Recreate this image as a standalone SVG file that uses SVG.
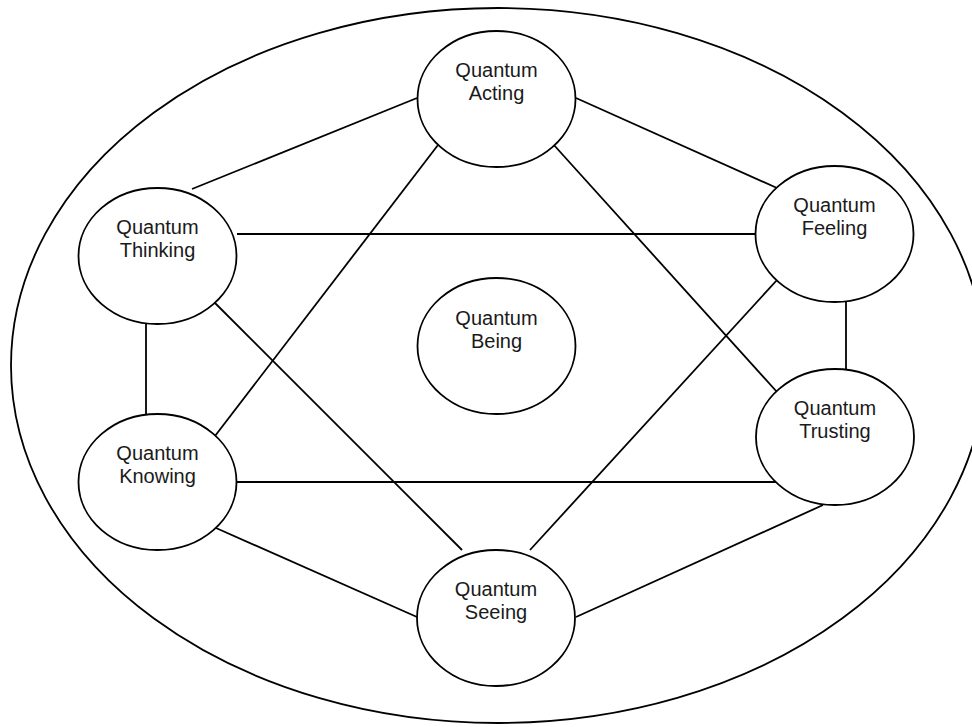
<svg xmlns="http://www.w3.org/2000/svg" width="972" height="727" viewBox="0 0 972 727">
  <style>
    .outer { fill: none; stroke: #000; stroke-width: 1.8; }
    .node ellipse { fill: #fff; stroke: #000; stroke-width: 1.8; }
    .node text { font-family: "Liberation Sans", Arial, sans-serif; font-size: 20px; fill: #1a1a1a; text-anchor: middle; }
    #connectors line { stroke: #000; stroke-width: 1.8; }
  </style>
  <rect x="0" y="0" width="972" height="727" fill="#fff"/>

  <!-- enclosing field -->
  <ellipse class="outer" cx="498" cy="365.5" rx="487" ry="357.5"/>

  <!-- links between the six outer qualities -->
  <g id="connectors">
    <line x1="192" y1="189" x2="417" y2="98"/>
    <line x1="237" y1="234" x2="756" y2="234"/>
    <line x1="146" y1="324" x2="146" y2="414"/>
    <line x1="215" y1="303" x2="462" y2="550"/>
    <line x1="215" y1="436" x2="438" y2="145"/>
    <line x1="237" y1="482" x2="777" y2="482"/>
    <line x1="216" y1="528" x2="417" y2="617"/>
    <line x1="576" y1="98" x2="777" y2="188"/>
    <line x1="553" y1="144" x2="777" y2="392"/>
    <line x1="846" y1="302" x2="846" y2="369"/>
    <line x1="777" y1="280" x2="530" y2="550"/>
    <line x1="823" y1="505" x2="576" y2="617"/>
  </g>

  <g id="acting" class="node">
    <ellipse cx="496.5" cy="99" rx="79" ry="68"/>
    <text x="496.5" y="77">Quantum</text>
    <text x="496.5" y="100">Acting</text>
  </g>
  <g id="thinking" class="node">
    <ellipse cx="157.5" cy="256" rx="79" ry="68"/>
    <text x="157.5" y="234">Quantum</text>
    <text x="157.5" y="257">Thinking</text>
  </g>
  <g id="feeling" class="node">
    <ellipse cx="834.5" cy="234" rx="79" ry="68"/>
    <text x="834.5" y="212">Quantum</text>
    <text x="834.5" y="235">Feeling</text>
  </g>
  <g id="being" class="node">
    <ellipse cx="496.5" cy="346" rx="79" ry="68"/>
    <text x="496.5" y="325">Quantum</text>
    <text x="496.5" y="348">Being</text>
  </g>
  <g id="trusting" class="node">
    <ellipse cx="835" cy="437" rx="79" ry="68"/>
    <text x="835" y="415">Quantum</text>
    <text x="835" y="438">Trusting</text>
  </g>
  <g id="knowing" class="node">
    <ellipse cx="157.5" cy="482" rx="79" ry="68"/>
    <text x="157.5" y="460">Quantum</text>
    <text x="157.5" y="483">Knowing</text>
  </g>
  <g id="seeing" class="node">
    <ellipse cx="496" cy="618" rx="79" ry="68"/>
    <text x="496" y="596">Quantum</text>
    <text x="496" y="619">Seeing</text>
  </g>
</svg>
